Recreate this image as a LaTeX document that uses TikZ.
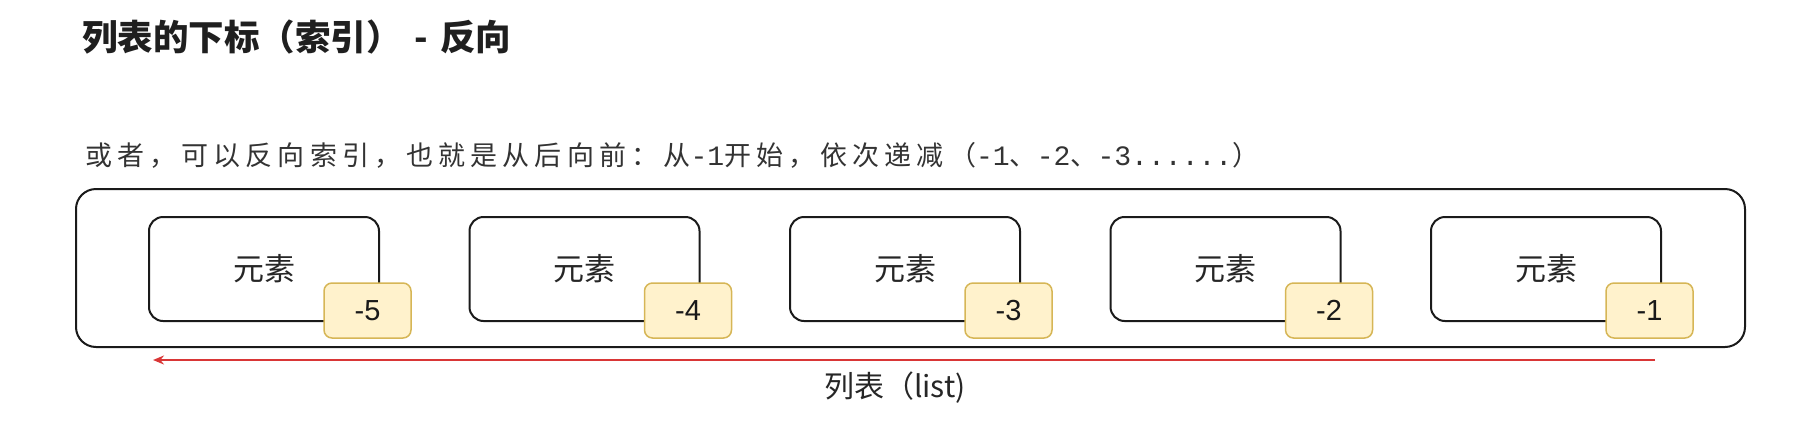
\documentclass[tikz,border=0pt]{standalone}
\usepackage{fontspec}
\setmainfont{Noto Sans CJK SC}
\newfontfamily\subfont[LetterSpace=19]{Noto Sans CJK SC}
\newfontfamily\sublat[Scale=1.04]{Liberation Mono}
\newfontfamily\idxfont{Liberation Sans}
\newcommand{\lat}[1]{{\sublat #1}}
\usepackage{xcolor}
\usepackage{tikz}
\usetikzlibrary{arrows.meta}
\definecolor{inkline}{HTML}{1A1A1A}
\definecolor{idxfill}{HTML}{FFF2CC}
\definecolor{idxdraw}{HTML}{D6B656}
\definecolor{arrred}{HTML}{D93636}

\begin{document}
\begin{tikzpicture}[x=1pt,y=-1pt,
  lst/.style={draw=inkline, line width=2pt, rounded corners=20pt, minimum width=1669pt, minimum height=158pt, inner sep=0pt},
  elem/.style={draw=inkline, line width=2pt, rounded corners=14pt, minimum width=230pt, minimum height=104pt, inner sep=0pt, font=\fontsize{31}{36}\selectfont, text=black!85},
  idx/.style={draw=idxdraw, fill=idxfill, line width=1.5pt, rounded corners=8pt, minimum width=87pt, minimum height=55pt, inner sep=0pt, font=\fontsize{29}{34}\idxfont, text=black!90},
  arr/.style={-{Stealth[length=11pt, width=9pt]}, line width=2.5pt, draw=arrred},
  lab/.style={font=\fontsize{30}{36}\selectfont, inner sep=0pt, text=black!85}]
\useasboundingbox (0,0) rectangle (1816,437);
\node[anchor=west, inner sep=0pt, font=\fontsize{35.5}{42}\selectfont\bfseries, text=black!88] (title) at (82,37) {列表的下标（索引）\hspace{13pt}-\hspace{4pt} 反向};
\node[anchor=west, inner sep=0pt, font=\fontsize{27}{32}\subfont, text=black!80] (sub) at (85,155) {或者，可以反向索引，也就是从后向前：从\lat{-1}开始，依次递减（\lat{-1}、\lat{-2}、\lat{-3......}）};
\node[lst] (L) at (910.5,268) {};
\node[elem] (E5) at (264,269)    {元素};
\node[elem] (E4) at (584.5,269)  {元素};
\node[elem] (E3) at (905,269)    {元素};
\node[elem] (E2) at (1225.5,269) {元素};
\node[elem] (E1) at (1546,269)   {元素};
\node[idx] (I5) at ([shift={(-12.5,-11.5)}]E5.south east) {-5};
\node[idx] (I4) at ([shift={(-12.5,-11.5)}]E4.south east) {-4};
\node[idx] (I3) at ([shift={(-12.5,-11.5)}]E3.south east) {-3};
\node[idx] (I2) at ([shift={(-12.5,-11.5)}]E2.south east) {-2};
\node[idx] (I1) at ([shift={(-12.5,-11.5)}]E1.south east) {-1};
\coordinate (AR) at (1655,360);
\coordinate (AL) at (153,360);
\draw[arr] (AR) -- (AL);
\node[lab] (LL) at (895,388) {列表（list)};
\end{tikzpicture}
\end{document}
